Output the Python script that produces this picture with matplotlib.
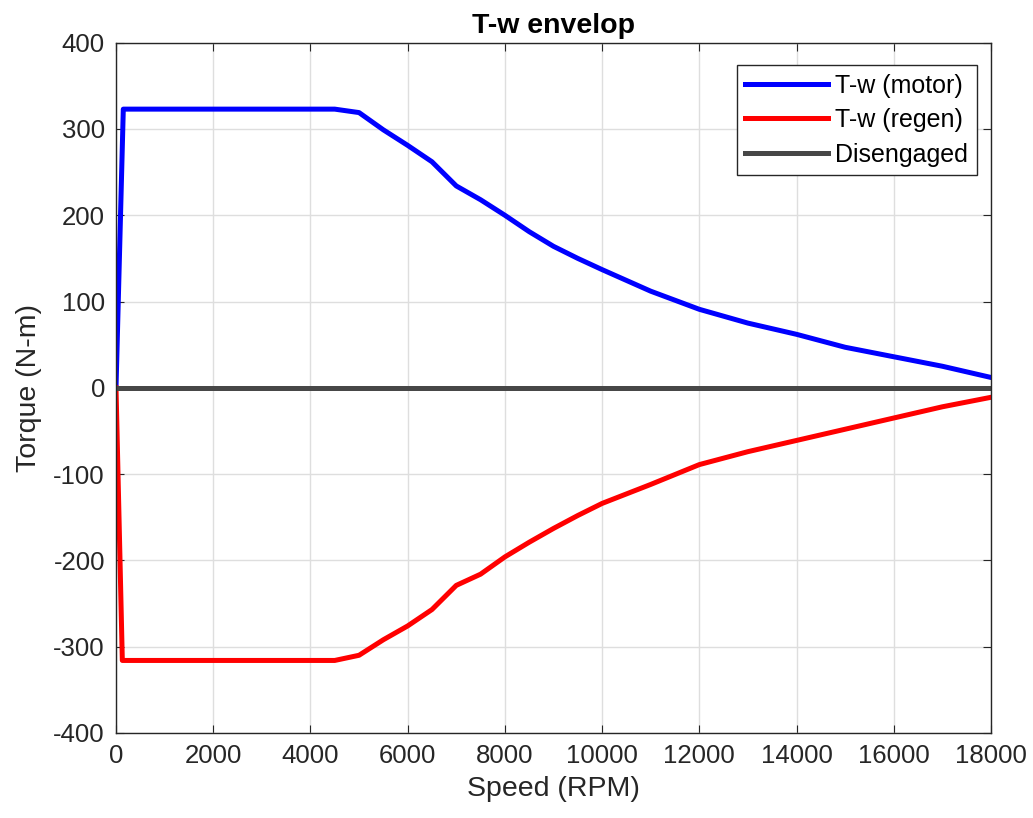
import matplotlib.pyplot as plt

plt.rcParams['font.family'] = ['Liberation Sans', 'DejaVu Sans']
plt.rcParams['axes.unicode_minus'] = False

motor_rpm = [0, 150, 4500, 5000, 5500, 6000, 6500, 7000, 7500, 8000, 8500, 9000, 9500,
             10000, 11000, 12000, 13000, 14000, 15000, 16000, 17000, 18000]
motor_torque = [0, 323, 323, 319, 299, 281, 262, 234, 218, 200, 181, 164, 150,
                137, 112, 91, 75, 62, 47, 36, 25, 12]

regen_rpm = [0, 130, 4500, 5000, 5500, 6000, 6500, 7000, 7500, 8000, 8500, 9000, 9500,
             10000, 11000, 12000, 13000, 14000, 15000, 16000, 17000, 18000]
regen_torque = [0, -316, -316, -310, -292, -276, -257, -229, -216, -196, -179, -163, -148,
                -134, -112, -89, -74, -61, -48, -35, -22, -11]

dis_rpm = [0, 18000]
dis_torque = [0, 0]

fig = plt.figure(figsize=(10.33, 8.18), dpi=100)
ax = fig.add_axes([0.1123, 0.104, 0.8470, 0.8438])

ax.plot(motor_rpm, motor_torque, color='#0000ff', linewidth=3.6, label='T-w (motor)')
ax.plot(regen_rpm, regen_torque, color='#ff0000', linewidth=3.6, label='T-w (regen)')
ax.plot(dis_rpm, dis_torque, color='#474747', linewidth=3.6, label='Disengaged')

ax.set_xlim(0, 18000)
ax.set_ylim(-400, 400)
ax.set_xticks(range(0, 18001, 2000))
ax.set_yticks(range(-400, 401, 100))
ax.grid(True, color='#dedede', linewidth=1)
ax.set_axisbelow(True)
ax.tick_params(direction='in', length=6, labelsize=18.5, colors='#262626',
               top=True, right=True, pad=8)
for s in ax.spines.values():
    s.set_color('#262626')
    s.set_linewidth(1)

ax.set_xlabel('Speed (RPM)', fontsize=20.5, color='#262626', labelpad=6)
ax.set_ylabel('Torque (N-m)', fontsize=20.5, color='#262626', labelpad=8)
ax.set_title('T-w envelop', fontsize=20.5, fontweight='bold', pad=7)

leg = ax.legend(loc='upper right', bbox_to_anchor=(0.984, 0.968), borderaxespad=0,
                fontsize=18, handlelength=3.3, handletextpad=0.3, labelspacing=0.42,
                borderpad=0.35, fancybox=False, edgecolor='#262626', framealpha=1)
leg.get_frame().set_linewidth(1)

fig.savefig('out.png', dpi=100)
